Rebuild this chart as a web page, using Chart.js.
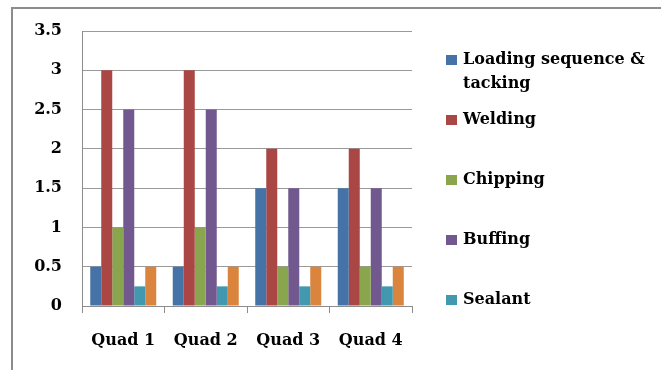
<!DOCTYPE html>
<html><head><meta charset="utf-8">
<script src="https://cdn.jsdelivr.net/npm/chart.js@4"></script>
<style>
html,body{margin:0;padding:0;background:#fff;overflow:hidden}
#frame{position:absolute;left:11px;top:7px;width:700px;height:400px;border-top:2px solid #8c8c8c;border-left:2px solid #8c8c8c;}
#wrap{position:absolute;left:0;top:0;width:661px;height:370px}
</style></head>
<body>
<div id="frame"></div>
<div id="wrap"><canvas id="c"></canvas></div>
<script>
const categories = ['Quad 1', 'Quad 2', 'Quad 3', 'Quad 4'];
const seriesNames = [['Loading sequence &', 'tacking'], 'Welding', 'Chipping', 'Buffing', 'Sealant', 'Series 6'];
const loading = [0.5, 0.5, 1.5, 1.5];
const welding = [3, 3, 2, 2];
const chipping = [1, 1, 0.5, 0.5];
const buffing = [2.5, 2.5, 1.5, 1.5];
const sealant = [0.25, 0.25, 0.25, 0.25];
const series6 = [0.5, 0.5, 0.5, 0.5];
const colors = ['#4572A7', '#AA4643', '#89A54E', '#71588F', '#4198AF', '#DB843D'];
const yTicks = [0, 0.5, 1, 1.5, 2, 2.5, 3, 3.5];

const allData = [loading, welding, chipping, buffing, sealant, series6];
const font = {family: '"DejaVu Serif", "Liberation Serif", serif', weight: 'bold', size: 16};

const legendPlugin = {
  id: 'sideLegend',
  afterDraw(chart) {
    const ctx = chart.ctx;
    ctx.save();
    ctx.font = 'bold 16px "DejaVu Serif", "Liberation Serif", serif';
    ctx.textBaseline = 'middle';
    ctx.fillStyle = '#000';
    const shown = 5;
    for (let i = 0; i < shown; i++) {
      const y = 60 + i * 60;
      ctx.fillStyle = colors[i];
      ctx.fillRect(446, y - 5, 11, 10);
      ctx.fillStyle = '#000';
      const lines = Array.isArray(seriesNames[i]) ? seriesNames[i] : [seriesNames[i]];
      lines.forEach((t, k) => ctx.fillText(t, 463, y + k * 24));
    }
    ctx.restore();
  }
};

new Chart(document.getElementById('c'), {
  type: 'bar',
  data: {
    labels: categories,
    datasets: allData.map((d, i) => ({
      label: Array.isArray(seriesNames[i]) ? seriesNames[i].join(' ') : seriesNames[i],
      data: d,
      backgroundColor: colors[i],
      borderWidth: 0,
      categoryPercentage: 0.8,
      barPercentage: 1.0
    }))
  },
  options: {
    responsive: true,
    maintainAspectRatio: false,
    animation: false,
    layout: {padding: {left: 0, right: 249, top: 31, bottom: 0}},
    plugins: {legend: {display: false}, tooltip: {enabled: false}},
    scales: {
      x: {
        offset: true,
        grid: {display: true, drawOnChartArea: false, drawTicks: true, tickLength: 7, color: '#8c8c8c', offset: true},
        border: {display: true, color: '#8c8c8c'},
        ticks: {font: font, color: '#000', padding: 18},
        afterFit(s) { s.height = 64; }
      },
      y: {
        min: 0, max: 3.5,
        afterBuildTicks(s) { s.ticks = yTicks.map(v => ({value: v})); },
        grid: {color: '#9a9a9a', drawTicks: false},
        border: {display: true, color: '#8c8c8c'},
        ticks: {font: font, color: '#000', padding: 20, callback: v => String(v)},
        afterFit(s) { s.width = 82; }
      }
    }
  },
  plugins: [legendPlugin]
});
</script>
</body></html>
